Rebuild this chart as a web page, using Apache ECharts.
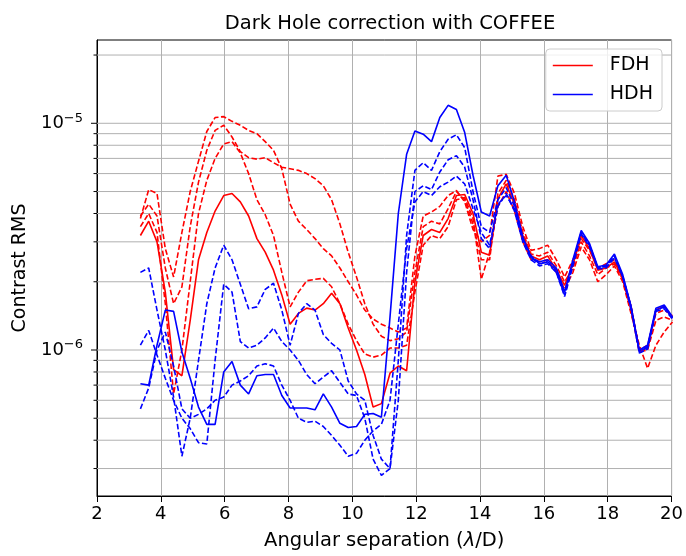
<!DOCTYPE html>
<html>
<head>
<meta charset="utf-8">
<script src="https://cdn.jsdelivr.net/npm/echarts@6/dist/echarts.min.js"></script>
<style>
html,body{margin:0;padding:0;background:#fff;}
#chart{width:686px;height:556px;}
</style>
</head>
<body>
<div id="chart"></div>
<script>
// Angular separation (lambda/D)
const X = [3.36,3.62,3.88,4.14,4.40,4.66,4.92,5.18,5.44,5.70,5.97,6.23,6.49,6.75,7.01,7.27,7.53,7.79,8.05,8.31,8.57,8.83,9.09,9.35,9.61,9.87,10.13,10.39,10.65,10.91,11.18,11.44,11.70,11.96,12.22,12.48,12.74,13.00,13.26,13.52,13.78,14.04,14.30,14.56,14.82,15.08,15.34,15.60,15.86,16.12,16.39,16.65,16.91,17.17,17.43,17.69,17.95,18.21,18.47,18.73,18.99,19.25,19.51,19.77,20.03];
// Contrast RMS values, in units of 1e-6
const UNIT = 1e-6;
const FDH_SOLID = [3.2,3.7,3.0,1.8,0.82,0.77,1.35,2.5,3.3,4.1,4.8,4.9,4.5,3.9,3.1,2.7,2.25,1.75,1.3,1.45,1.53,1.5,1.6,1.78,1.6,1.25,1.0,0.78,0.56,0.58,0.79,0.85,0.81,2.0,3.2,3.4,3.3,3.8,4.8,4.85,4.0,2.7,2.62,4.65,5.4,4.4,3.2,2.6,2.5,2.6,2.25,1.93,2.37,3.2,2.8,2.25,2.3,2.45,2.07,1.56,0.99,1.02,1.5,1.56,1.4];
const FDH_DASH_A = [3.8,5.1,4.9,2.8,2.1,3.3,5.0,6.8,9.2,10.6,10.7,10.2,9.8,9.3,9.0,8.3,7.6,6.3,4.4,3.7,3.4,3.1,2.8,2.6,2.3,2.0,1.75,1.5,1.37,1.3,1.25,1.2,1.25,2.6,3.9,4.06,4.3,4.8,5.05,4.5,3.4,3.0,3.2,5.85,5.95,4.9,3.5,2.75,2.8,2.9,2.5,2.1,2.5,3.1,2.75,2.3,2.4,2.5,2.1,1.55,1.0,1.05,1.45,1.5,1.42];
const FDH_DASH_B = [3.9,4.4,3.9,2.3,1.6,1.9,3.5,5.5,7.6,9.3,9.8,8.7,7.5,7.05,6.95,7.05,6.7,6.4,6.3,6.2,6.0,5.7,5.3,4.6,3.6,2.7,2.1,1.6,1.3,1.15,1.1,1.12,1.2,2.2,3.5,3.7,3.6,4.2,5.0,4.6,3.6,2.5,2.5,4.9,5.6,4.6,3.3,2.65,2.6,2.7,2.35,2.0,2.3,3.0,2.6,2.15,2.3,2.4,2.05,1.5,0.98,1.0,1.35,1.4,1.35];
const FDH_DASH_C = [3.5,4.0,3.3,1.6,0.64,1.0,2.0,4.0,5.6,7.0,8.1,8.3,7.4,6.0,4.6,3.95,3.2,2.2,1.55,1.8,2.02,2.05,2.07,1.9,1.6,1.3,1.1,0.96,0.93,0.95,1.02,1.02,1.05,1.8,2.9,3.2,3.1,3.5,4.6,4.7,3.8,2.05,2.7,4.3,5.0,4.1,3.0,2.5,2.45,2.5,2.2,1.85,2.2,2.85,2.5,2.0,2.15,2.35,2.0,1.45,1.05,0.83,1.05,1.2,1.33];
const HDH_SOLID = [0.71,0.70,1.05,1.5,1.48,0.98,0.75,0.56,0.47,0.47,0.80,0.89,0.70,0.64,0.77,0.78,0.78,0.63,0.555,0.555,0.555,0.545,0.64,0.56,0.475,0.455,0.46,0.52,0.525,0.505,1.4,4.0,7.3,9.25,8.95,8.3,10.6,12.0,11.5,9.1,5.9,4.06,3.9,5.3,5.9,4.5,3.15,2.55,2.45,2.5,2.3,1.8,2.5,3.37,2.95,2.33,2.37,2.65,2.15,1.56,1.0,1.05,1.53,1.58,1.4];
const HDH_DASH_A = [2.2,2.3,1.5,1.0,0.62,0.34,0.5,0.9,1.6,2.3,2.9,2.5,1.95,1.52,1.55,1.85,1.97,1.5,1.05,1.45,1.6,1.5,1.17,1.07,1.0,0.73,0.64,0.6,0.42,0.33,0.3,0.9,3.2,6.2,6.7,6.2,7.5,8.5,8.9,7.8,5.0,3.5,3.3,4.6,5.2,4.3,3.1,2.6,2.4,2.45,2.2,1.75,2.4,3.3,2.9,2.3,2.35,2.6,2.1,1.55,0.98,1.03,1.5,1.55,1.38];
const HDH_DASH_B = [1.05,1.22,0.95,0.75,0.6,0.5,0.45,0.39,0.385,0.9,1.95,1.8,1.09,1.02,1.05,1.13,1.25,1.09,1.0,0.9,0.78,0.71,0.76,0.81,0.72,0.64,0.63,0.5,0.33,0.28,0.3,0.6,2.2,5.0,5.3,5.1,6.1,6.9,7.2,6.4,4.6,3.1,2.8,4.3,4.9,4.1,3.0,2.5,2.35,2.4,2.2,1.72,2.35,3.25,2.85,2.28,2.3,2.55,2.1,1.52,0.97,1.01,1.48,1.52,1.37];
const HDH_DASH_C = [0.55,0.68,1.0,1.2,0.85,0.55,0.5,0.52,0.55,0.6,0.62,0.7,0.73,0.77,0.85,0.87,0.85,0.7,0.6,0.5,0.48,0.485,0.46,0.42,0.38,0.34,0.35,0.4,0.44,0.47,0.6,1.3,2.8,4.5,5.0,4.8,5.25,5.5,5.85,5.4,4.2,3.3,2.9,4.4,4.8,4.2,3.1,2.55,2.4,2.45,2.25,1.8,2.45,3.3,2.9,2.3,2.33,2.6,2.12,1.55,0.99,1.03,1.5,1.55,1.39];
// log-axis grid values (major 1e-6, 1e-5; minor others)
const Y_MAJOR = [1e-6, 1e-5];
const Y_MINOR = [3e-7,4e-7,5e-7,6e-7,7e-7,8e-7,9e-7,2e-6,3e-6,4e-6,5e-6,6e-6,7e-6,8e-6,9e-6,2e-5];
const X_MIN = 2, X_MAX = 20, X_STEP = 2;
const Y_MIN = 2.27e-7, Y_MAX = 2.33e-5;

const RED = '#ff0000', BLUE = '#0000ff';
const DASH = [5.5, 2.5];
function pts(arr){ return X.map((x,i)=>[x, arr[i]*UNIT]); }
function lineSeries(name, arr, color, dashed){
  return {
    name: name, type: 'line', data: pts(arr), symbol: 'none', showSymbol: false,
    lineStyle: {color: color, width: 1.6, type: dashed ? DASH : 'solid'},
    itemStyle: {color: color}, z: 3, silent: true, clip: true
  };
}
const gridData = Y_MAJOR.map(v=>[X_MIN, v, 1]).concat(Y_MINOR.map(v=>[X_MIN, v, 0]));
const LEG_ICON = 'path://M0,0L40,0L40,1.6L0,1.6Z';

const chart = echarts.init(document.getElementById('chart'), null, {renderer: 'canvas'});
const FONT = 'DejaVu Sans';
chart.setOption({
  animation: false,
  backgroundColor: '#ffffff',
  textStyle: {fontFamily: FONT},
  title: {
    text: 'Dark Hole correction with COFFEE', left: 385, top: 9, textAlign: 'center',
    textStyle: {fontFamily: FONT, fontSize: 19.5, fontWeight: 'normal', color: '#000'}
  },
  legend: {
    data: [{name: 'FDH', icon: LEG_ICON}, {name: 'HDH', icon: LEG_ICON}],
    right: 24, top: 49, orient: 'vertical',
    itemWidth: 40, itemHeight: 14, itemGap: 10, symbolKeepAspect: true,
    padding: [7, 9, 7, 7],
    backgroundColor: 'rgba(255,255,255,0.8)', borderColor: '#cccccc', borderWidth: 1, borderRadius: 4,
    itemStyle: {borderWidth: 0},
    textStyle: {fontFamily: FONT, fontSize: 19, color: '#000', padding: [0, 0, 0, 12]},
    selectedMode: false
  },
  grid: {left: 97, right: 14, top: 40, bottom: 57, show: true, borderColor: '#000', borderWidth: 1, backgroundColor: 'transparent'},
  xAxis: {
    type: 'value', min: X_MIN, max: X_MAX, interval: X_STEP,
    name: 'Angular separation ({i|λ}/D)', nameLocation: 'middle', nameGap: 35,
    nameTextStyle: {fontFamily: FONT, fontSize: 19.5, color: '#000',
      rich: {i: {fontFamily: FONT, fontSize: 19.5, fontStyle: 'italic', color: '#000'}}},
    axisLine: {lineStyle: {color: '#000', width: 1}},
    axisTick: {show: true, length: 6, inside: false, lineStyle: {color: '#000'}},
    axisLabel: {fontFamily: FONT, fontSize: 18, color: '#000', margin: 9},
    splitLine: {show: true, lineStyle: {color: '#b0b0b0', width: 1}}
  },
  yAxis: {
    type: 'log', logBase: 10, min: Y_MIN, max: Y_MAX,
    name: 'Contrast RMS', nameLocation: 'middle', nameGap: 65,
    nameTextStyle: {fontFamily: FONT, fontSize: 19, color: '#000'},
    axisLine: {lineStyle: {color: '#000', width: 1}},
    axisTick: {show: false},
    splitLine: {show: false},
    axisLabel: {
      margin: 14, color: '#000',
      formatter: function(v){
        const e = Math.log10(v), r = Math.round(e);
        if (Math.abs(e - r) > 1e-6) return '';
        return '{b|10}{s|' + (r < 0 ? '\u2212' : '') + Math.abs(r) + '}';
      },
      rich: {
        b: {fontFamily: FONT, fontSize: 18, color: '#000'},
        s: {fontFamily: FONT, fontSize: 13, color: '#000', padding: [0, 0, 10, 0]}
      }
    }
  },
  series: [
    {
      type: 'custom', name: 'ygrid', data: gridData, encode: {x: 0, y: 1},
      silent: true, clip: false, z: 1,
      renderItem: function(params, api){
        const v = api.value(1), major = api.value(2) === 1;
        const p0 = api.coord([X_MIN, v]);
        const p1 = api.coord([X_MAX, v]);
        const len = major ? 6 : 3.5;
        return {type: 'group', children: [
          {type: 'line', shape: {x1: p0[0], y1: p0[1], x2: p1[0], y2: p1[1]}, style: {stroke: '#b0b0b0', lineWidth: 1}},
          {type: 'line', shape: {x1: p0[0] - len, y1: p0[1], x2: p0[0], y2: p0[1]}, style: {stroke: '#000', lineWidth: 1}}
        ]};
      }
    },
    lineSeries('FDH', FDH_SOLID, RED, false),
    lineSeries('FDH_a', FDH_DASH_A, RED, true),
    lineSeries('FDH_b', FDH_DASH_B, RED, true),
    lineSeries('FDH_c', FDH_DASH_C, RED, true),
    lineSeries('HDH', HDH_SOLID, BLUE, false),
    lineSeries('HDH_a', HDH_DASH_A, BLUE, true),
    lineSeries('HDH_b', HDH_DASH_B, BLUE, true),
    lineSeries('HDH_c', HDH_DASH_C, BLUE, true)
  ]
});
</script>
</body>
</html>
